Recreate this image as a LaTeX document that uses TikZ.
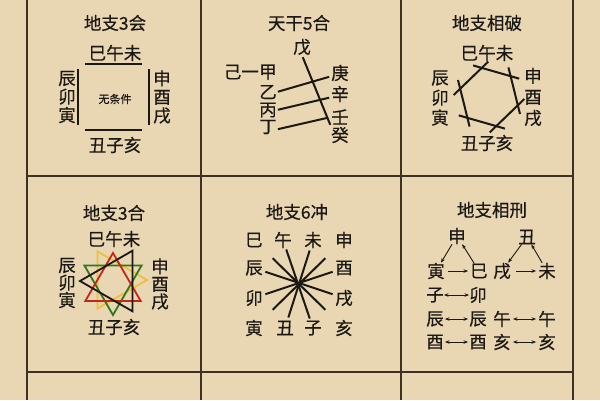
\documentclass[tikz,border=0pt]{standalone}
\usepackage{fontspec}
\setmainfont{Noto Sans CJK SC}[FakeBold=0.5]
\usetikzlibrary{arrows.meta}
\definecolor{paper}{RGB}{233,214,179}
\definecolor{ink}{RGB}{28,24,20}
\definecolor{rule}{RGB}{62,48,34}
\definecolor{sred}{RGB}{196,38,26}
\definecolor{sgreen}{RGB}{44,120,30}
\definecolor{syellow}{RGB}{238,192,58}
\tikzset{
  lbl/.style={inner sep=0pt, text=ink, font=\fontsize{17.5}{18}\selectfont},
  stk/.style={lbl, align=center, font=\fontsize{17.5}{#1}\selectfont},
  stk/.default=18.5,
  note/.style={inner sep=0pt, text=ink, font=\fontsize{11}{12}\selectfont},
  stroke/.style={draw=ink, line width=2pt},
  cellrule/.style={draw=rule, line width=1.5pt},
  tri/.style={line width=1.8pt, line join=miter},
  arr/.style={draw=ink, line width=0.9pt, -{Stealth[length=4.5pt,width=3.5pt]}},
  darr/.style={draw=ink, line width=0.9pt, {Stealth[length=4.5pt,width=3.5pt]}-{Stealth[length=4.5pt,width=3.5pt]}},
}
\begin{document}
\begin{tikzpicture}[x=1pt,y=-1pt]
\useasboundingbox (0,0) rectangle (600,400);
\fill[paper] (0,0) rectangle (600,400);
\foreach \x in {27,201,401,573}
  \draw[cellrule] (\x,0) -- (\x,400);
\draw[cellrule] (27,176) -- (573,176);
\draw[cellrule] (27,372) -- (573,372);

\node[lbl] (t1) at (115,23) {地支3会};
\node[lbl] (top1) at (115,53) {巳午未};
\node[stk] (left1) at (67,97) {辰\\卯\\寅};
\node[stk] (right1) at (162,97) {申\\酉\\戌};
\node[lbl] (bot1) at (115,145) {丑子亥};
\node[note] (mid1) at (115,99) {无条件};
\draw[stroke] (85,64) -- (142,64);
\draw[stroke] (85,130) -- (142,130);
\draw[stroke] (78,69) -- (78,125);
\draw[stroke] (149,69) -- (149,125);

\node[lbl] (t2) at (299,23) {天干5合};
\node[lbl] (wu) at (302,47) {戊};
\node[lbl] (jia) at (268,72) {甲};
\node[lbl, anchor=east] (ji) at (jia.west) {己一};
\node[lbl] (yi) at (268,92) {乙};
\node[lbl] (bing) at (268,110) {丙};
\node[lbl] (ding) at (268,127) {丁};
\node[lbl] (geng) at (340,73) {庚};
\node[lbl] (xin) at (340,94) {辛};
\node[lbl] (ren) at (340,117) {壬};
\node[lbl] (gui) at (340,135) {癸};
\draw[stroke, shorten <=1pt, shorten >=2pt](yi.east) -- (geng.200);
\draw[stroke, shorten <=1pt, shorten >=2pt](bing.east) -- (xin.200);
\draw[stroke, shorten <=1pt, shorten >=3pt](ding.-15) -- (ren.west);
\draw[stroke, shorten <=2pt, shorten >=2pt](wu.south) -- (gui.north west);

\node[lbl] (t3) at (487,23) {地支相破};
\node[lbl] (top3) at (487,53) {巳午未};
\node[stk=20] (left3) at (440,98) {辰\\卯\\寅};
\node[stk=21] (right3) at (533,97) {申\\酉\\戌};
\node[lbl] (bot3) at (487,143) {丑子亥};
\coordinate (hx) at (489,97);
\foreach \a in {-104,-44,16,76,136,196}
  \draw[stroke, shorten <=-9pt, shorten >=-9pt] ([shift={(\a:30)}]hx) -- ([shift={(\a+60:30)}]hx);

\node[lbl] (t4) at (114,213) {地支3合};
\node[lbl] (top4) at (114,239) {巳午未};
\node[stk=17.5] (left4) at (67,283) {辰\\卯\\寅};
\node[stk=17.5] (right4) at (160,284) {申\\酉\\戌};
\node[lbl] (bot4) at (114,327) {丑子亥};
\foreach \c/\px/\py/\r/\a in {syellow/114/280/33/0, sgreen/113/282/33/90, sred/113/285/32/-90, ink/115/281/35/180}
  \draw[tri, draw=\c] ([shift={(\a:\r)}]\px,\py) -- ([shift={(\a+120:\r)}]\px,\py) -- ([shift={(\a+240:\r)}]\px,\py) -- cycle;

\node[lbl] (t5) at (297,212) {地支6冲};
\node[lbl] (si5) at (254,240) {巳};
\node[lbl] (wu5) at (283,240) {午};
\node[lbl] (wei5) at (313,240) {未};
\node[lbl] (shen5) at (344,240) {申};
\node[lbl] (chen5) at (254,268) {辰};
\node[lbl] (you5) at (344,268) {酉};
\node[lbl] (mao5) at (254,298) {卯};
\node[lbl] (xu5) at (344,298) {戌};
\node[lbl] (yin5) at (254,328) {寅};
\node[lbl] (chou5) at (285,328) {丑};
\node[lbl] (zi5) at (313,328) {子};
\node[lbl] (hai5) at (344,328) {亥};
\foreach \a/\b/\s in {si5/hai5/26pt, wei5/chou5/11pt, wu5/zi5/10pt, shen5/yin5/26pt, chen5/xu5/12pt, you5/mao5/12pt}
  \draw[stroke, shorten <=\s, shorten >=\s] (\a.center) -- (\b.center);

\node[lbl] (t6) at (492,210) {地支相刑};
\node[lbl] (shen6) at (457,236) {申};
\node[lbl] (chou6) at (527,237) {丑};
\node[lbl] (yin6) at (436,271) {寅};
\node[lbl] (si6) at (479,271) {巳};
\node[lbl] (xu6) at (502,271) {戌};
\node[lbl] (wei6) at (547,271) {未};
\node[lbl] (zi6) at (435,295) {子};
\node[lbl] (mao6) at (478,295) {卯};
\node[lbl] (chen6) at (435,319) {辰};
\node[lbl] (chen6b) at (478,319) {辰};
\node[lbl] (wu6) at (502,319) {午};
\node[lbl] (wu6b) at (547,319) {午};
\node[lbl] (you6) at (435,342) {酉};
\node[lbl] (you6b) at (478,342) {酉};
\node[lbl] (hai6) at (502,342) {亥};
\node[lbl] (hai6b) at (547,342) {亥};
\draw[arr](shen6) -- (yin6);
\draw[arr](si6) -- (shen6);
\draw[arr, shorten <=3pt, shorten >=2pt](yin6) -- (si6);
\draw[arr](chou6) -- (xu6);
\draw[arr](wei6) -- (chou6);
\draw[arr, shorten <=5pt, shorten >=2pt](xu6) -- (wei6);
\draw[darr](zi6) -- (mao6);
\draw[darr, shorten <=1pt, shorten >=1pt](chen6) -- (chen6b);
\draw[darr, shorten <=2pt, shorten >=2pt](wu6) -- (wu6b);
\draw[darr, shorten <=1pt, shorten >=1pt](you6) -- (you6b);
\draw[darr, shorten <=2pt, shorten >=2pt](hai6) -- (hai6b);
\end{tikzpicture}
\end{document}
